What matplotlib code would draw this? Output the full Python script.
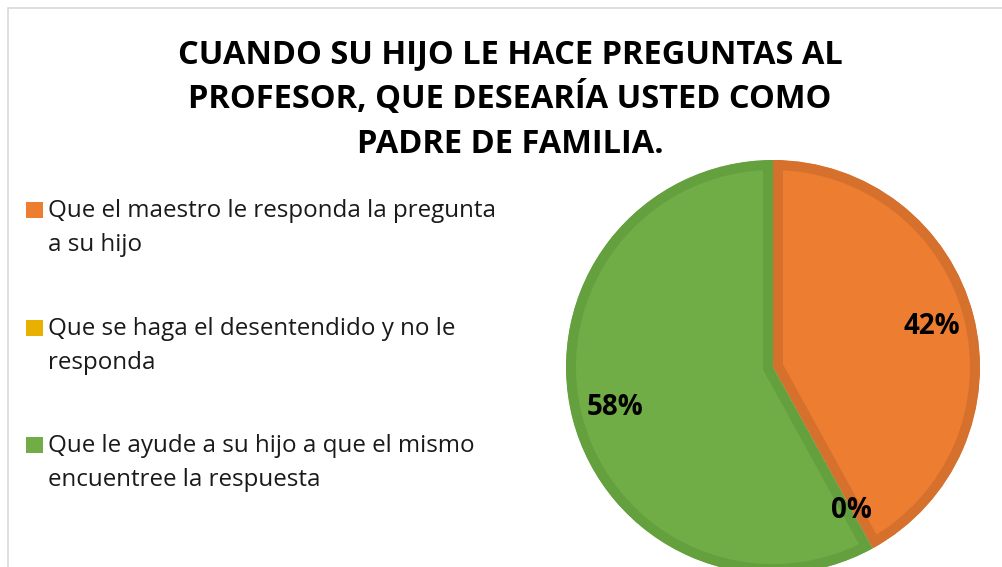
import matplotlib
matplotlib.use("Agg")
import matplotlib.pyplot as plt
from matplotlib.patches import Rectangle

# data
labels = [
    ["Que el maestro le responda la pregunta", "a su hijo"],
    ["Que se haga el desentendido y no le", "responda"],
    ["Que le ayude a su hijo a que el mismo", "encuentree la respuesta"],
]
shares = [42, 0, 58]
colors = ["#ED7D31", "#E8B000", "#70AD47"]
edge_colors = ["#D5702D", "#D09E00", "#65A03F"]
title_lines = ["CUANDO SU HIJO LE HACE PREGUNTAS AL",
               "PROFESOR, QUE DESEARÍA USTED COMO",
               "PADRE DE FAMILIA."]

plt.rcParams["font.family"] = ["Open Sans", "DejaVu Sans"]

W, H = 1002, 567
fig = plt.figure(figsize=(W / 100, H / 100), dpi=100)

# light frame of the chart area
fig.patches.append(Rectangle((8 / W, -0.1), 1.2, 1 - 8 / H + 0.1, transform=fig.transFigure,
                             fill=False, edgecolor="#D9D9D9", linewidth=1.2))

# title, one text per line so the accent does not shift spacing
for i, line in enumerate(title_lines):
    fig.text(510 / W, 1 - (63 + i * 45) / H, line, ha="center", va="baseline",
             fontsize=23.5, fontweight="bold", color="black")

# pie
cx, cy, R = 773, 367, 207
ax = fig.add_axes([(cx - R) / W, (H - cy - R) / H, 2 * R / W, 2 * R / H])
wedges, texts, autotexts = ax.pie(
    shares, colors=colors, startangle=90, counterclock=False, radius=1.0,
    autopct=lambda p: f"{p:.0f}%", pctdistance=0.79,
    wedgeprops=dict(linewidth=14.4),
    textprops=dict(fontsize=20, fontweight="bold", color="black"))
for w, ec in zip(wedges, edge_colors):
    w.set_edgecolor(ec)
    # keep the stroke inside its own slice (pie turns clipping off)
    w.set_clip_path(w.get_path(), w.get_transform())
    w.set_clip_on(True)
ax.set_xlim(-1, 1)
ax.set_ylim(-1, 1)
ax.set_aspect("equal")
ax.axis("off")

# legend drawn at the left
for i, (lines, c) in enumerate(zip(labels, colors)):
    top = 202 + i * 117.7
    fig.patches.append(Rectangle((26 / W, 1 - (top + 16) / H), 17 / W, 16 / H,
                                 transform=fig.transFigure, facecolor=c, edgecolor="none"))
    for j, line in enumerate(lines):
        fig.text(48 / W, 1 - (top + 15 + j * 34) / H, line, ha="left", va="baseline",
                 fontsize=17.4, color="#1a1a1a")

fig.savefig("out.png", dpi=100)
